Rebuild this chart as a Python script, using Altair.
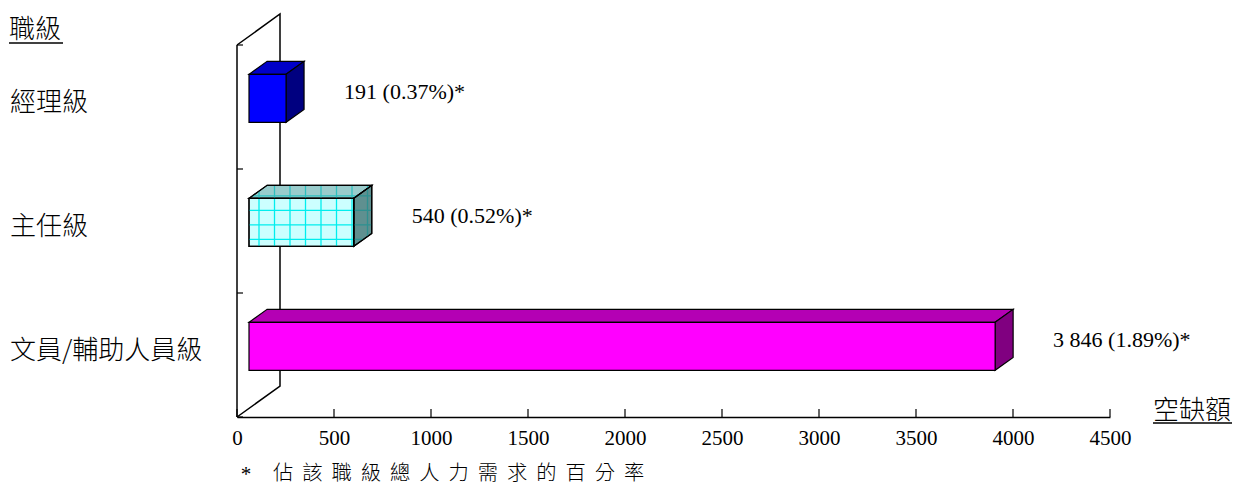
import altair as alt
import pandas as pd

# ---- data ----
categories = ["經理級", "主任級", "文員/輔助人員級"]
vacancies = [191, 540, 3846]
shares = [0.37, 0.52, 1.89]          # % of total manpower requirement of the grade
x_ticks = [0, 500, 1000, 1500, 2000, 2500, 3000, 3500, 4000, 4500]
y_title = ["職級"]
x_title = ["空缺額"]
note_mark = ["*"]
note_text = ["佔該職級總人力需求的百分率"]

# ---- layout ----
W, H = 873, 372
X_MAX = 4500
N = len(categories)
PAD = dict(left=237, top=45, right=1236 - 237 - W, bottom=488 - 45 - H)


def ux(px):
    """pixels -> x data units"""
    return px * X_MAX / W


def uy(px):
    """pixels -> y band units"""
    return px * N / H


WALL_DX, WALL_DY = 43, 31            # depth of the 3-D frame in px
DEPTH_FRONT, DEPTH_BACK = 12 / 43, 30 / 43
HALF = 24                            # half thickness of a bar in px

CJK = "Noto Sans CJK TC"
SERIF = "Liberation Serif"
CJK_WEIGHT = 300

face_colors = [
    {"front": "#0000FF", "top": "#0000C8", "side": "#000080"},
    {"front": "#CCFFFF", "top": "#99CCCC", "side": "#5F9090"},
    {"front": "#FF00FF", "top": "#B400B4", "side": "#800080"},
]
grid_colors = {"front": "#00EEEE", "top": "#2FC0C0", "side": "#2F9090"}
PATTERNED = 1

xs = alt.Scale(domain=[0, X_MAX], nice=False, zero=False)
ys = alt.Scale(domain=[0, N], reverse=True, nice=False, zero=False)

x_axis = alt.Axis(
    values=x_ticks, format="d", title="", grid=False, ticks=False, tickSize=0,
    labelFont=SERIF, labelFontSize=21, labelColor="black", labelPadding=10,
    labelFlush=False, labelOverlap=False, domainColor="black", domainWidth=1.5)


def X(f):
    return alt.X(f, scale=xs, axis=x_axis)


def Y(f):
    return alt.Y(f, scale=ys, axis=None)


a1 = ux(WALL_DX * DEPTH_FRONT)
a2 = ux(WALL_DX * DEPTH_BACK)


def box(i, v):
    c = i + 0.5
    t1 = c - uy(WALL_DY * DEPTH_FRONT) - uy(HALF)
    t2 = c - uy(WALL_DY * DEPTH_BACK) - uy(HALF)
    b1 = t1 + uy(2 * HALF)
    b2 = t2 + uy(2 * HALF)
    return dict(t1=t1, t2=t2, b1=b1, b2=b2,
                front=[(a1, t1), (v + a1, t1), (v + a1, b1), (a1, b1)],
                top=[(a1, t1), (v + a1, t1), (v + a2, t2), (a2, t2)],
                side=[(v + a1, t1), (v + a2, t2), (v + a2, b2), (v + a1, b1)])


def clip(poly, value, axis):
    """Intersect a line (x=value if axis==0, y=value if axis==1) with a convex polygon."""
    hits = []
    k = len(poly)
    for j in range(k):
        p, q = poly[j], poly[(j + 1) % k]
        lo, hi = sorted((p[axis], q[axis]))
        if hi > lo and lo <= value <= hi:
            t = (value - p[axis]) / (q[axis] - p[axis])
            hits.append(p[1 - axis] + t * (q[1 - axis] - p[1 - axis]))
    if len(hits) < 2:
        return None
    return min(hits), max(hits)


layers = []

# x axis with inward ticks
ticks_df = pd.DataFrame({"tick": x_ticks})
layers.append(alt.Chart(ticks_df).mark_rule(color="black", strokeWidth=1.2).encode(
    x=X("tick:Q"), y=alt.value(H), y2=alt.value(H - 8)))

# ---- 3-D frame: back wall outline and left axis ----
wall = pd.DataFrame({
    "k": [0, 1, 2, 3],
    "x": [0, ux(WALL_DX), ux(WALL_DX), 0],
    "y": [0, -uy(WALL_DY), N - uy(WALL_DY), N],
})
layers.append(alt.Chart(wall).mark_line(color="black", strokeWidth=1.5)
              .encode(x=X("x:Q"), y=Y("y:Q"), order="k:Q"))

layers.append(alt.Chart(pd.DataFrame({"a": [0]})).mark_rule(color="black", strokeWidth=1.5)
              .encode(x=alt.value(0), y=alt.value(0), y2=alt.value(H)))

bounds = pd.DataFrame({"b": list(range(N + 1))})
layers.append(alt.Chart(bounds).mark_rule(color="black", strokeWidth=1.2)
              .encode(y=Y("b:Q"), x=alt.value(0), x2=alt.value(6)))

# ---- bars ----
for i, v in enumerate(vacancies):
    g = box(i, v)
    col = face_colors[i]
    top_df = pd.DataFrame({"y": [g["t1"], g["t2"]], "x": [a1, a2], "x2": [v + a1, v + a2]})
    side_df = pd.DataFrame({"x": [v + a1, v + a2], "y": [g["t1"], g["t2"]], "y2": [g["b1"], g["b2"]]})
    front_df = pd.DataFrame({"x": [a1], "x2": [v + a1], "y": [g["t1"]], "y2": [g["b1"]]})

    top = alt.Chart(top_df).encode(y=Y("y:Q"), x=X("x:Q"), x2="x2:Q")
    side = alt.Chart(side_df).encode(x=X("x:Q"), y=Y("y:Q"), y2="y2:Q")
    front = alt.Chart(front_df).encode(x=X("x:Q"), x2="x2:Q", y=Y("y:Q"), y2="y2:Q")

    layers.append(top.mark_area(orient="horizontal", fill=col["top"], stroke="black", strokeWidth=1.2))
    layers.append(side.mark_area(orient="vertical", fill=col["side"], stroke="black", strokeWidth=1.2))
    layers.append(front.mark_rect(fill=col["front"], stroke="black", strokeWidth=1.2))

    if i == PATTERNED:
        gx, gy = ux(15.5), uy(14.5)
        xs_lines = []
        xv = a1 + ux(10)
        while xv < v + a2:
            xs_lines.append(xv)
            xv += gx
        ys_lines = []
        yv = g["t1"] + uy(12)
        while yv - gy > g["t2"]:
            yv -= gy
        while yv < g["b2"] + uy(14):
            ys_lines.append(yv)
            yv += gy
        for face in ["front", "top", "side"]:
            poly = g[face]
            vrows, hrows = [], []
            for xv in xs_lines:
                seg = clip(poly, xv, 0)
                if seg and seg[1] - seg[0] > uy(1):
                    vrows.append({"x": xv, "y": seg[0], "y2": seg[1]})
            for yv in ys_lines:
                seg = clip(poly, yv, 1)
                if seg and seg[1] - seg[0] > ux(1):
                    hrows.append({"y": yv, "x": seg[0], "x2": seg[1]})
            if vrows:
                layers.append(alt.Chart(pd.DataFrame(vrows))
                              .mark_rule(color=grid_colors[face], strokeWidth=1.3)
                              .encode(x=X("x:Q"), y=Y("y:Q"), y2="y2:Q"))
            if hrows:
                layers.append(alt.Chart(pd.DataFrame(hrows))
                              .mark_rule(color=grid_colors[face], strokeWidth=1.3)
                              .encode(y=Y("y:Q"), x=X("x:Q"), x2="x2:Q"))
        # outlines on top of the pattern
        layers.append(top.mark_area(orient="horizontal", fillOpacity=0, stroke="black", strokeWidth=1.2))
        layers.append(side.mark_area(orient="vertical", fillOpacity=0, stroke="black", strokeWidth=1.2))
        layers.append(front.mark_rect(fillOpacity=0, stroke="black", strokeWidth=1.2))

# ---- value labels ----
labels = pd.DataFrame({
    "x": [v + a1 + ux(58) for v in vacancies],
    "y": [i + 0.5 - uy(WALL_DY * DEPTH_FRONT) - uy(6) for i in range(N)],
    "label": [f"{v:,}".replace(",", " ") + f" ({s:.2f}%)*" for v, s in zip(vacancies, shares)],
})
layers.append(alt.Chart(labels).mark_text(
    align="left", baseline="middle", font=SERIF, fontSize=22, color="black")
    .encode(x=X("x:Q"), y=Y("y:Q"), text="label:N"))

# ---- category labels ----
cats = pd.DataFrame({"y": [i + 0.5 - uy(4) for i in range(N)], "cat": categories})
layers.append(alt.Chart(cats).mark_text(
    align="left", baseline="middle", font=CJK, fontSize=26, fontWeight=CJK_WEIGHT, color="black")
    .encode(x=alt.value(-227), y=Y("y:Q"), text="cat:N"))

# ---- axis titles (underlined) ----
layers.append(alt.Chart(pd.DataFrame({"t": y_title})).mark_text(
    align="left", baseline="middle", font=CJK, fontSize=26, fontWeight=CJK_WEIGHT, color="black")
    .encode(x=alt.value(-228), y=alt.value(-15), text="t:N"))
layers.append(alt.Chart(pd.DataFrame({"t": y_title})).mark_rule(color="black", strokeWidth=1.5)
              .encode(x=alt.value(-228), x2=alt.value(-174), y=alt.value(-2)))

layers.append(alt.Chart(pd.DataFrame({"t": x_title})).mark_text(
    align="left", baseline="middle", font=CJK, fontSize=26, fontWeight=CJK_WEIGHT, color="black")
    .encode(x=alt.value(916), y=alt.value(366), text="t:N"))
layers.append(alt.Chart(pd.DataFrame({"t": x_title})).mark_rule(color="black", strokeWidth=1.5)
              .encode(x=alt.value(916), x2=alt.value(995), y=alt.value(378)))

# ---- footnote ----
layers.append(alt.Chart(pd.DataFrame({"t": note_mark})).mark_text(
    align="center", baseline="alphabetic", font=SERIF, fontSize=21, color="black")
    .encode(x=alt.value(9), y=alt.value(436), text="t:N"))
spaced = ["\u00a0\u00a0".join(list(s)) for s in note_text]
layers.append(alt.Chart(pd.DataFrame({"t": spaced})).mark_text(
    align="left", baseline="middle", font=CJK, fontSize=20.3, fontWeight=CJK_WEIGHT, color="black")
    .encode(x=alt.value(36), y=alt.value(429), text="t:N"))

chart = alt.layer(*layers).properties(
    width=W, height=H, padding=PAD, background="white",
    autosize=alt.AutoSizeParams(type="none"),
).configure_view(strokeWidth=0)

chart.save("out.html", embed_options={"renderer": "svg", "actions": False})
